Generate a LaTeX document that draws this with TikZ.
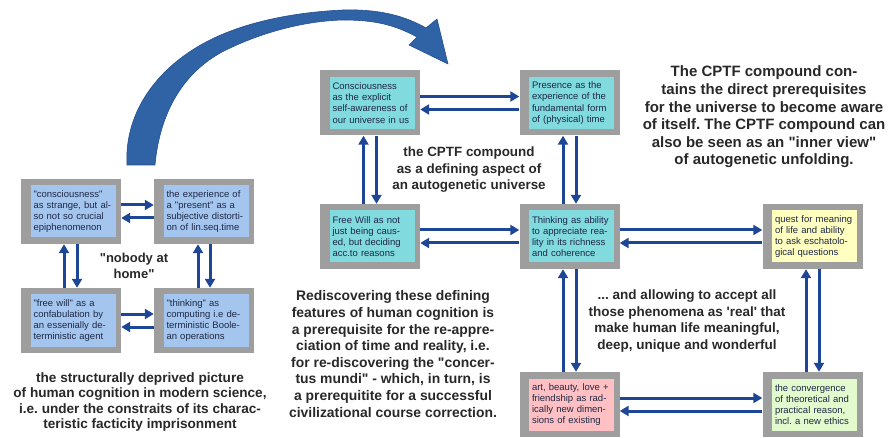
\documentclass[tikz,border=0pt]{standalone}
\usepackage{fontspec}
\newfontfamily\lsans{Liberation Sans}
\usetikzlibrary{arrows.meta}
\definecolor{frame}{RGB}{158,158,158}
\definecolor{paleblue}{RGB}{164,198,238}
\definecolor{aqua}{RGB}{128,218,222}
\definecolor{paleyellow}{RGB}{255,255,192}
\definecolor{palepink}{RGB}{255,192,196}
\definecolor{palegreen}{RGB}{226,250,206}
\definecolor{boxtext}{RGB}{30,40,70}
\definecolor{headtext}{RGB}{40,40,40}
\definecolor{arrowblue}{RGB}{30,70,150}
\definecolor{ribbon}{RGB}{48,98,166}
\definecolor{ribbonedge}{RGB}{36,80,145}

% a grey frame with a coloured panel holding four lines of text
\newcommand{\cbox}[4]{%
  \node[outerbox] (#1) at (#2) {};
  \node[innerbox, fill=#3] (#1-in) at ([xshift=2pt]#1.center) {#4};
}

\begin{document}
\frenchspacing
\begin{tikzpicture}[x=1pt,y=-1pt,
  outerbox/.style={minimum width=100pt, minimum height=65pt, fill=frame, inner sep=0pt},
  innerbox/.style={minimum width=85pt, minimum height=52pt, text width=79pt, inner sep=3pt,
    align=left, text=boxtext, font=\lsans\fontsize{9.5}{11.2}\selectfont},
  arr/.style={draw=arrowblue, line width=3pt, -{Triangle[length=9pt,width=10pt]}},
  note/.style={align=center, text=headtext, inner sep=0pt},
]
\useasboundingbox (0,0) rectangle (894,438);

% ---- left group: the deprived picture ----
\cbox{LA}{71,211.5}{paleblue}{"consciousness"\\as strange, but al-\\so not so crucial\\epiphenomenon}
\cbox{LB}{204,211.5}{paleblue}{the experience of\\a "present" as a\\subjective distorti-\\on of lin.seq.time}
\cbox{LC}{71,320.5}{paleblue}{"free will" as a\\confabulation by\\an essenially de-\\terministic agent}
\cbox{LD}{204,320.5}{paleblue}{"thinking" as\\computing i.e de-\\terministic Boole-\\an operations}

\draw[arr] ([yshift=6.5pt]LA.east) -- ([yshift=6.5pt]LB.west);
\draw[arr] ([yshift=-6.5pt]LB.west) -- ([yshift=-6.5pt]LA.east);
\draw[arr] ([yshift=6.5pt]LC.east) -- ([yshift=6.5pt]LD.west);
\draw[arr] ([yshift=-6.5pt]LD.west) -- ([yshift=-6.5pt]LC.east);
\draw[arr] ([xshift=-7pt]LC.north) -- ([xshift=-7pt]LA.south);
\draw[arr] ([xshift=6pt]LA.south) -- ([xshift=6pt]LC.north);
\draw[arr] ([xshift=-6pt]LD.north) -- ([xshift=-6pt]LB.south);
\draw[arr] ([xshift=6pt]LB.south) -- ([xshift=6pt]LD.north);

\node[note, font=\lsans\bfseries\fontsize{13}{16}\selectfont] (nobody) at (134,266) {"nobody at\\home"};
\node[note, font=\lsans\bfseries\fontsize{13.6}{15.5}\selectfont] (deprived) at (140,402)
  {the structurally deprived picture\\of human cognition in modern science,\\i.e. under the constraits of its charac-\\teristic facticity imprisonment};

% ---- right group: the CPTF compound ----
\cbox{R1}{370,103}{aqua}{Consciousness\\as the explicit\\self-awareness of\\our universe in us}
\cbox{R2}{569.5,103}{aqua}{Presence as the\\experience of the\\fundamental form\\of (physical) time}
\cbox{R3}{370,236.5}{aqua}{Free Will as not\\just being caus-\\ed, but deciding\\acc.to reasons}
\cbox{R4}{569.5,236.5}{aqua}{Thinking as ability\\to appreciate rea-\\lity in its richness\\and coherence}
\cbox{R5}{812.5,236.5}{paleyellow}{quest for meaning\\of life and ability\\to ask eschatolo-\\gical questions}
\cbox{R6}{569.5,404.5}{palepink}{art, beauty, love +\\friendship as rad-\\ically new dimen-\\sions of existing}
\cbox{R7}{812.5,404.5}{palegreen}{the convergence\\of theoretical and\\practical reason,\\incl. a new ethics}

\foreach \a/\b in {R1/R2, R3/R4, R4/R5, R6/R7}{
  \draw[arr] ([yshift=6.5pt]\a.east) -- ([yshift=6.5pt]\b.west);
  \draw[arr] ([yshift=-6.5pt]\b.west) -- ([yshift=-6.5pt]\a.east);
}
\foreach \a/\b in {R1/R3, R2/R4, R4/R6, R5/R7}{
  \draw[arr] ([xshift=-6.5pt]\b.north) -- ([xshift=-6.5pt]\a.south);
  \draw[arr] ([xshift=6.5pt]\a.south) -- ([xshift=6.5pt]\b.north);
}

\node[note, font=\lsans\bfseries\fontsize{13.4}{16.5}\selectfont] (cptf) at (469,170)
  {the CPTF compound\\as a defining aspect of\\an autogenetic universe};
\node[note, font=\lsans\bfseries\fontsize{15}{17.6}\selectfont] (contains) at (764,117)
  {The CPTF compound con-\\tains the direct prerequisites\\for the universe to become aware\\of itself. The CPTF compound can\\also be seen as an "inner view"\\of autogenetic unfolding.};
\node[note, font=\lsans\bfseries\fontsize{13.9}{16.6}\selectfont] (rediscover) at (393,354)
  {Rediscovering these defining\\features of human cognition is\\a prerequisite for the re-appre-\\ciation of time and reality, i.e.\\for re-discovering the "concer-\\tus mundi" - which, in turn, is\\a prerequitite for a successful\\civilizational course correction.};
\node[note, font=\lsans\bfseries\fontsize{13.5}{16.4}\selectfont] (allowing) at (687,321)
  {... and allowing to accept all\\those phenomena as 'real' that\\make human life meaningful,\\deep, unique and wonderful};

% ---- the sweeping arrow from the deprived picture to the CPTF compound ----
\fill[ribbon, draw=ribbonedge, line width=0.6pt, line join=round]
  (127,165) .. controls (124,110) and (160,65) .. (210,40)
  .. controls (250,20) and (300,12) .. (343,10)
  .. controls (380,9) and (405,16) .. (426,28)
  -- (437,19) -- (448,64) -- (409,45) -- (417,37)
  .. controls (395,25) and (375,20) .. (343,20)
  .. controls (300,21) and (255,35) .. (222,52)
  .. controls (185,72) and (160,110) .. (155,165) -- cycle;
\end{tikzpicture}
\end{document}
